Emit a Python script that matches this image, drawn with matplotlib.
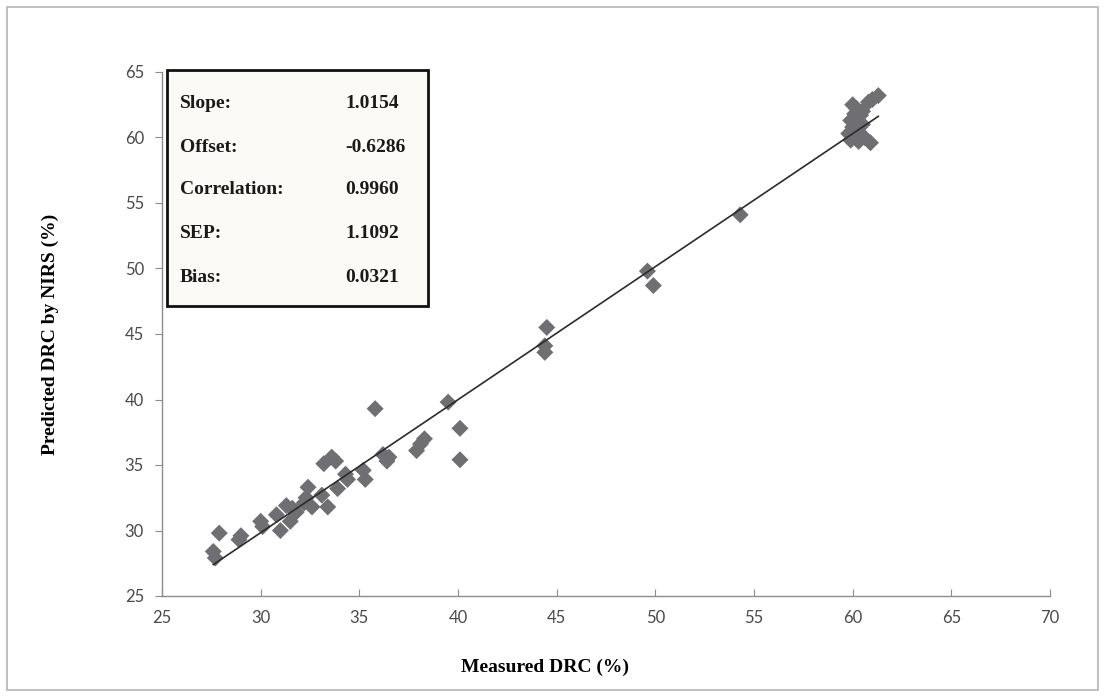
import matplotlib
matplotlib.use("Agg")
import matplotlib.pyplot as plt
from matplotlib.patches import Rectangle

# measured vs predicted DRC (%)
measured = [27.6, 27.7, 27.9, 28.9, 29.0, 30.0, 30.1, 30.8, 31.0, 31.3,
            31.5, 31.8, 31.6, 32.2, 32.3, 32.4, 32.6, 33.1, 33.2, 33.4,
            33.6, 33.8, 33.9, 34.3, 34.4, 35.2, 35.3, 35.8, 36.2, 36.4,
            36.5, 37.9, 38.1, 38.3, 39.5, 40.1, 40.1, 44.5, 44.4, 44.4,
            49.6, 49.9, 54.3,
            60.0, 60.2, 60.1, 59.9, 60.0, 59.8, 59.9, 60.3, 60.6, 60.9,
            60.5, 60.4, 60.8, 61.0, 61.3, 60.5, 60.2]
predicted = [28.4, 27.9, 29.8, 29.3, 29.6, 30.7, 30.3, 31.2, 30.0, 31.9,
             30.7, 31.4, 31.7, 32.1, 32.5, 33.3, 31.8, 32.7, 35.1, 31.8,
             35.6, 35.3, 33.2, 34.3, 33.9, 34.6, 33.9, 39.3, 35.8, 35.3,
             35.6, 36.1, 36.6, 37.0, 39.8, 37.8, 35.4, 45.5, 44.1, 43.6,
             49.8, 48.7, 54.1,
             62.5, 62.2, 61.8, 61.3, 60.8, 60.3, 59.8, 59.7, 60.0, 59.6,
             61.0, 61.7, 62.7, 62.9, 63.2, 62.0, 60.5]

stat_names = ["Slope:", "Offset:", "Correlation:", "SEP:", "Bias:"]
stat_values = ["1.0154", "-0.6286", "0.9960", "1.1092", "0.0321"]
slope = 1.0154
offset = -0.6286

xticks = [25, 30, 35, 40, 45, 50, 55, 60, 65, 70]
yticks = [25, 30, 35, 40, 45, 50, 55, 60, 65]

W, H = 1106, 697
fig = plt.figure(figsize=(W / 100, H / 100), dpi=100)
fig.patch.set_facecolor("white")

# outer chart-area frame
fig.add_artist(Rectangle((7 / W, 1 - 690 / H), 1091 / W, 683 / H,
                         transform=fig.transFigure, fill=False,
                         edgecolor="#b4b4b4", linewidth=1.2))

ax = fig.add_axes([162 / W, 1 - 596 / H, 888 / W, 524 / H])
ax.scatter(measured, predicted, marker="D", s=75, color="#6f6f73",
           edgecolors="none", zorder=3)

# fitted line from the stated slope / offset
x0, x1 = min(measured), max(measured)
ax.plot([x0, x1], [slope * x0 + offset, slope * x1 + offset],
        color="#2b2b2b", linewidth=1.2, zorder=4)

ax.set_xlim(25, 70)
ax.set_ylim(25, 65)
ax.set_xticks(xticks)
ax.set_yticks(yticks)
for s in ["top", "right"]:
    ax.spines[s].set_visible(False)
for s in ["left", "bottom"]:
    ax.spines[s].set_color("#8c8c8c")
    ax.spines[s].set_linewidth(1.0)
ax.tick_params(axis="x", direction="in", length=5, color="#8c8c8c",
               labelsize=12, labelcolor="#4a4a4a", pad=10)
ax.tick_params(axis="y", direction="out", length=5, color="#8c8c8c",
               labelsize=12, labelcolor="#4a4a4a", pad=8)
for lab in ax.get_xticklabels() + ax.get_yticklabels():
    lab.set_fontfamily("Lato")

fig.text(545 / W, 1 - 667 / H, "Measured DRC (%)", ha="center", va="center",
         fontsize=14, fontweight="bold", family="Liberation Serif")
fig.text(50 / W, 1 - 334 / H, "Predicted DRC by NIRS (%)", ha="center",
         va="center", rotation=90, fontsize=14, fontweight="bold",
         family="Liberation Serif")

# statistics box
bx0, by0, bx1, by1 = 167, 70, 428, 306
fig.add_artist(Rectangle((bx0 / W, 1 - by1 / H), (bx1 - bx0) / W,
                         (by1 - by0) / H, transform=fig.transFigure,
                         facecolor="#fbfaf6", edgecolor="#111111",
                         linewidth=2.0, zorder=5))
row_y = [103, 147, 190, 234, 277]
for name, val, yy in zip(stat_names, stat_values, row_y):
    fig.text(180 / W, 1 - yy / H, name, ha="left", va="center",
             fontsize=14, fontweight="bold", family="Liberation Serif",
             color="#1a1a1a", zorder=6)
    fig.text(345 / W, 1 - yy / H, val, ha="left", va="center",
             fontsize=14, fontweight="bold", family="Liberation Serif",
             color="#1a1a1a", zorder=6)

fig.savefig("out.png", dpi=100)
